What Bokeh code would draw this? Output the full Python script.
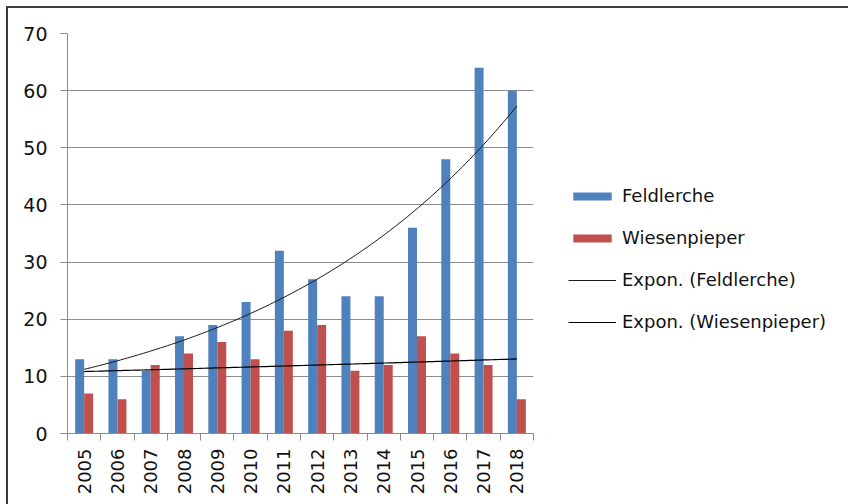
import numpy as np
from bokeh.plotting import figure
from bokeh.layouts import row
from bokeh.models import (ColumnDataSource, Range1d, FixedTicker, Legend, LegendItem)
from bokeh.transform import dodge
from bokeh.embed import file_html
from bokeh.resources import INLINE

years = [2005, 2006, 2007, 2008, 2009, 2010, 2011, 2012, 2013, 2014, 2015, 2016, 2017, 2018]
feldlerche = [13, 13, 11, 17, 19, 23, 32, 27, 24, 24, 36, 48, 64, 60]
wiesenpieper = [7, 6, 12, 14, 16, 13, 18, 19, 11, 12, 17, 14, 12, 6]
y_ticks = [0, 10, 20, 30, 40, 50, 60, 70]
labels = ["Feldlerche", "Wiesenpieper", "Expon. (Feldlerche)", "Expon. (Wiesenpieper)"]

FONT = "DejaVu Sans"
BLUE = "#4F81BD"
RED = "#C0504D"
GRID = "#8C8C8C"
TXT = "#111111"

src = ColumnDataSource(dict(year=years, feld=feldlerche, wies=wiesenpieper))

# exponential trend lines (least squares on ln(y), as Excel does)
yr = np.array(years, dtype=float)
def expfit(vals):
    b, a = np.polyfit(yr - yr[0], np.log(np.array(vals, dtype=float)), 1)
    xs = np.linspace(yr[0], yr[-1], 120)
    return xs, np.exp(a + b * (xs - yr[0]))

fx, fy = expfit(feldlerche)
wx, wy = expfit(wiesenpieper)

p = figure(width=540, height=496, output_backend="svg", toolbar_location=None,
           x_range=Range1d(years[0] - 0.5, years[-1] + 0.5), y_range=Range1d(0, 70),
           min_border_left=59, min_border_right=15, min_border_top=25, min_border_bottom=71)
p.outline_line_color = None
p.background_fill_color = "white"
p.border_fill_color = "white"

# axes
p.xaxis.ticker = FixedTicker(ticks=years, minor_ticks=[y - 0.5 for y in years] + [years[-1] + 0.5])
p.xaxis.major_tick_out = 0
p.xaxis.major_tick_in = 0
p.xaxis.minor_tick_out = 7
p.xaxis.minor_tick_in = 0
p.xaxis.minor_tick_line_color = GRID
p.xaxis.axis_line_color = GRID
p.xaxis.major_label_orientation = np.pi / 2
p.xaxis.major_label_standoff = 8
p.xaxis.major_label_text_font = FONT
p.xaxis.major_label_text_font_size = "18px"
p.xaxis.major_label_text_color = TXT

p.yaxis.ticker = FixedTicker(ticks=y_ticks)
p.yaxis.major_tick_out = 7
p.yaxis.major_tick_in = 0
p.yaxis.minor_tick_line_color = None
p.yaxis.major_tick_line_color = GRID
p.yaxis.axis_line_color = GRID
p.yaxis.major_label_standoff = 13
p.yaxis.major_label_text_font = FONT
p.yaxis.major_label_text_font_size = "19px"
p.yaxis.major_label_text_color = TXT

p.xgrid.grid_line_color = None
p.ygrid.grid_line_color = GRID
p.ygrid.ticker = FixedTicker(ticks=y_ticks)

p.vbar(x=dodge("year", -0.135, range=p.x_range), top="feld", width=0.27, source=src,
       fill_color=BLUE, line_color=None)
p.vbar(x=dodge("year", 0.135, range=p.x_range), top="wies", width=0.27, source=src,
       fill_color=RED, line_color=None)
p.line(fx, fy, line_color="#1a1a1a", line_width=1)
p.line(wx, wy, line_color="#000000", line_width=1.2)

# legend panel (separate figure so the legend can sit outside the plot area);
# its proxy renderers hold one point outside the visible range
q = figure(width=300, height=496, output_backend="svg", toolbar_location=None,
           x_range=Range1d(0, 1), y_range=Range1d(0, 1),
           x_axis_location=None, y_axis_location=None, min_border=0)
q.outline_line_color = None
q.grid.grid_line_color = None
q.border_fill_color = "white"
l1 = q.vbar(x=[-5], top=[-5], width=0.1, fill_color=BLUE, line_color=None)
l2 = q.vbar(x=[-5], top=[-5], width=0.1, fill_color=RED, line_color=None)
l3 = q.line(x=[-5, -4], y=[-5, -5], line_color="#1a1a1a", line_width=1)
l4 = q.line(x=[-5, -4], y=[-5, -5], line_color="#000000", line_width=1.2)

legend = Legend(items=[LegendItem(label=t, renderers=[r]) for t, r in zip(labels, [l1, l2, l3, l4])],
                location=(20, 101), orientation="vertical")
legend.glyph_width = 48
legend.glyph_height = 10
legend.label_height = 21
legend.spacing = 21
legend.padding = 10
legend.margin = 0
legend.label_standoff = 6
legend.label_text_font = FONT
legend.label_text_font_size = "18px"
legend.label_text_color = TXT
legend.border_line_color = None
legend.background_fill_alpha = 0
q.add_layout(legend, "center")

layout = row(p, q, styles={"margin-left": "6px", "margin-top": "6px",
                           "border-left": "2px solid #3c3c3c",
                           "border-top": "2px solid #3c3c3c"})

open("out.html", "w").write(file_html(layout, INLINE))
